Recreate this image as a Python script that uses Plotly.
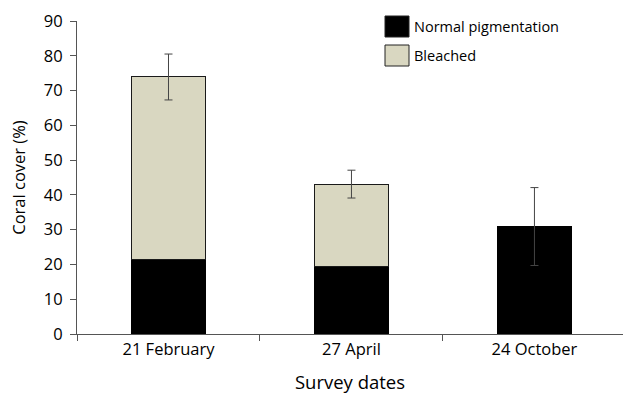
import plotly.graph_objects as go

dates = ["21 February", "27 April", "24 October"]
normal = [21.4, 19.3, 30.9]
bleached = [52.5, 23.8, None]
err = [6.6, 4.0, 11.2]
yticks = [0, 10, 20, 30, 40, 50, 60, 70, 80, 90]

totals = [n + (b or 0) for n, b in zip(normal, bleached)]

FONT = "Open Sans"
W, H = 623, 396
ml, mr, mt, mb = 77, 0, 21, 62

fig = go.Figure()
fig.add_trace(go.Bar(x=dates, y=normal, name="Normal pigmentation", width=0.405,
                     marker=dict(color="black", line=dict(color="black", width=1))))
fig.add_trace(go.Bar(x=dates, y=bleached, name="Bleached", width=0.405,
                     marker=dict(color="#D9D7C1", line=dict(color="#1a1a1a", width=1))))
fig.add_trace(go.Scatter(x=dates, y=totals, mode="markers", marker=dict(opacity=0, size=1),
                         error_y=dict(type="data", array=err, visible=True, color="#444",
                                      thickness=1, width=4), hoverinfo="skip"))

# legend drawn as shapes/text
pw = W - ml - mr
ph = H - mt - mb
def px(x):
    return (x - ml) / pw
def py(y):
    return (H - mb - y) / ph

items = [("Normal pigmentation", "black", 16, 37), ("Bleached", "#D9D7C1", 45, 66)]
for label, col, y0, y1 in items:
    fig.add_shape(type="rect", xref="paper", yref="paper", x0=px(385), x1=px(409),
                  y0=py(y1), y1=py(y0), fillcolor=col, line=dict(color="#222", width=1))
    fig.add_annotation(xref="paper", yref="paper", x=px(412), y=py((y0 + y1) / 2),
                       text=label, showarrow=False, xanchor="left", yanchor="middle",
                       font=dict(family=FONT, size=14.5, color="black"))

fig.update_layout(
    width=W, height=H, barmode="stack", showlegend=False,
    margin=dict(l=ml, r=mr, t=mt, b=mb),
    plot_bgcolor="white", paper_bgcolor="white",
    font=dict(family=FONT, size=16.5, color="black"),
)
fig.update_xaxes(type="category", range=[-0.5, 2.484], showline=True, linecolor="#555",
                 linewidth=1, ticks="outside", tickson="boundaries", ticklen=6,
                 tickcolor="#555", showgrid=False, automargin=False,
                 title=dict(text="Survey dates", font=dict(size=18.5), standoff=17))
fig.update_yaxes(range=[0, 90], tickvals=yticks, showline=True, linecolor="#555",
                 linewidth=1, ticks="outside", ticklen=6, tickcolor="#555",
                 ticklabelstandoff=4,
                 showgrid=False, zeroline=False, automargin=False,
                 title=dict(text="Coral cover (%)", font=dict(size=16.5), standoff=14))

fig.write_html("out.html", config={"displayModeBar": False},
               post_script="document.body.style.margin='0';")
